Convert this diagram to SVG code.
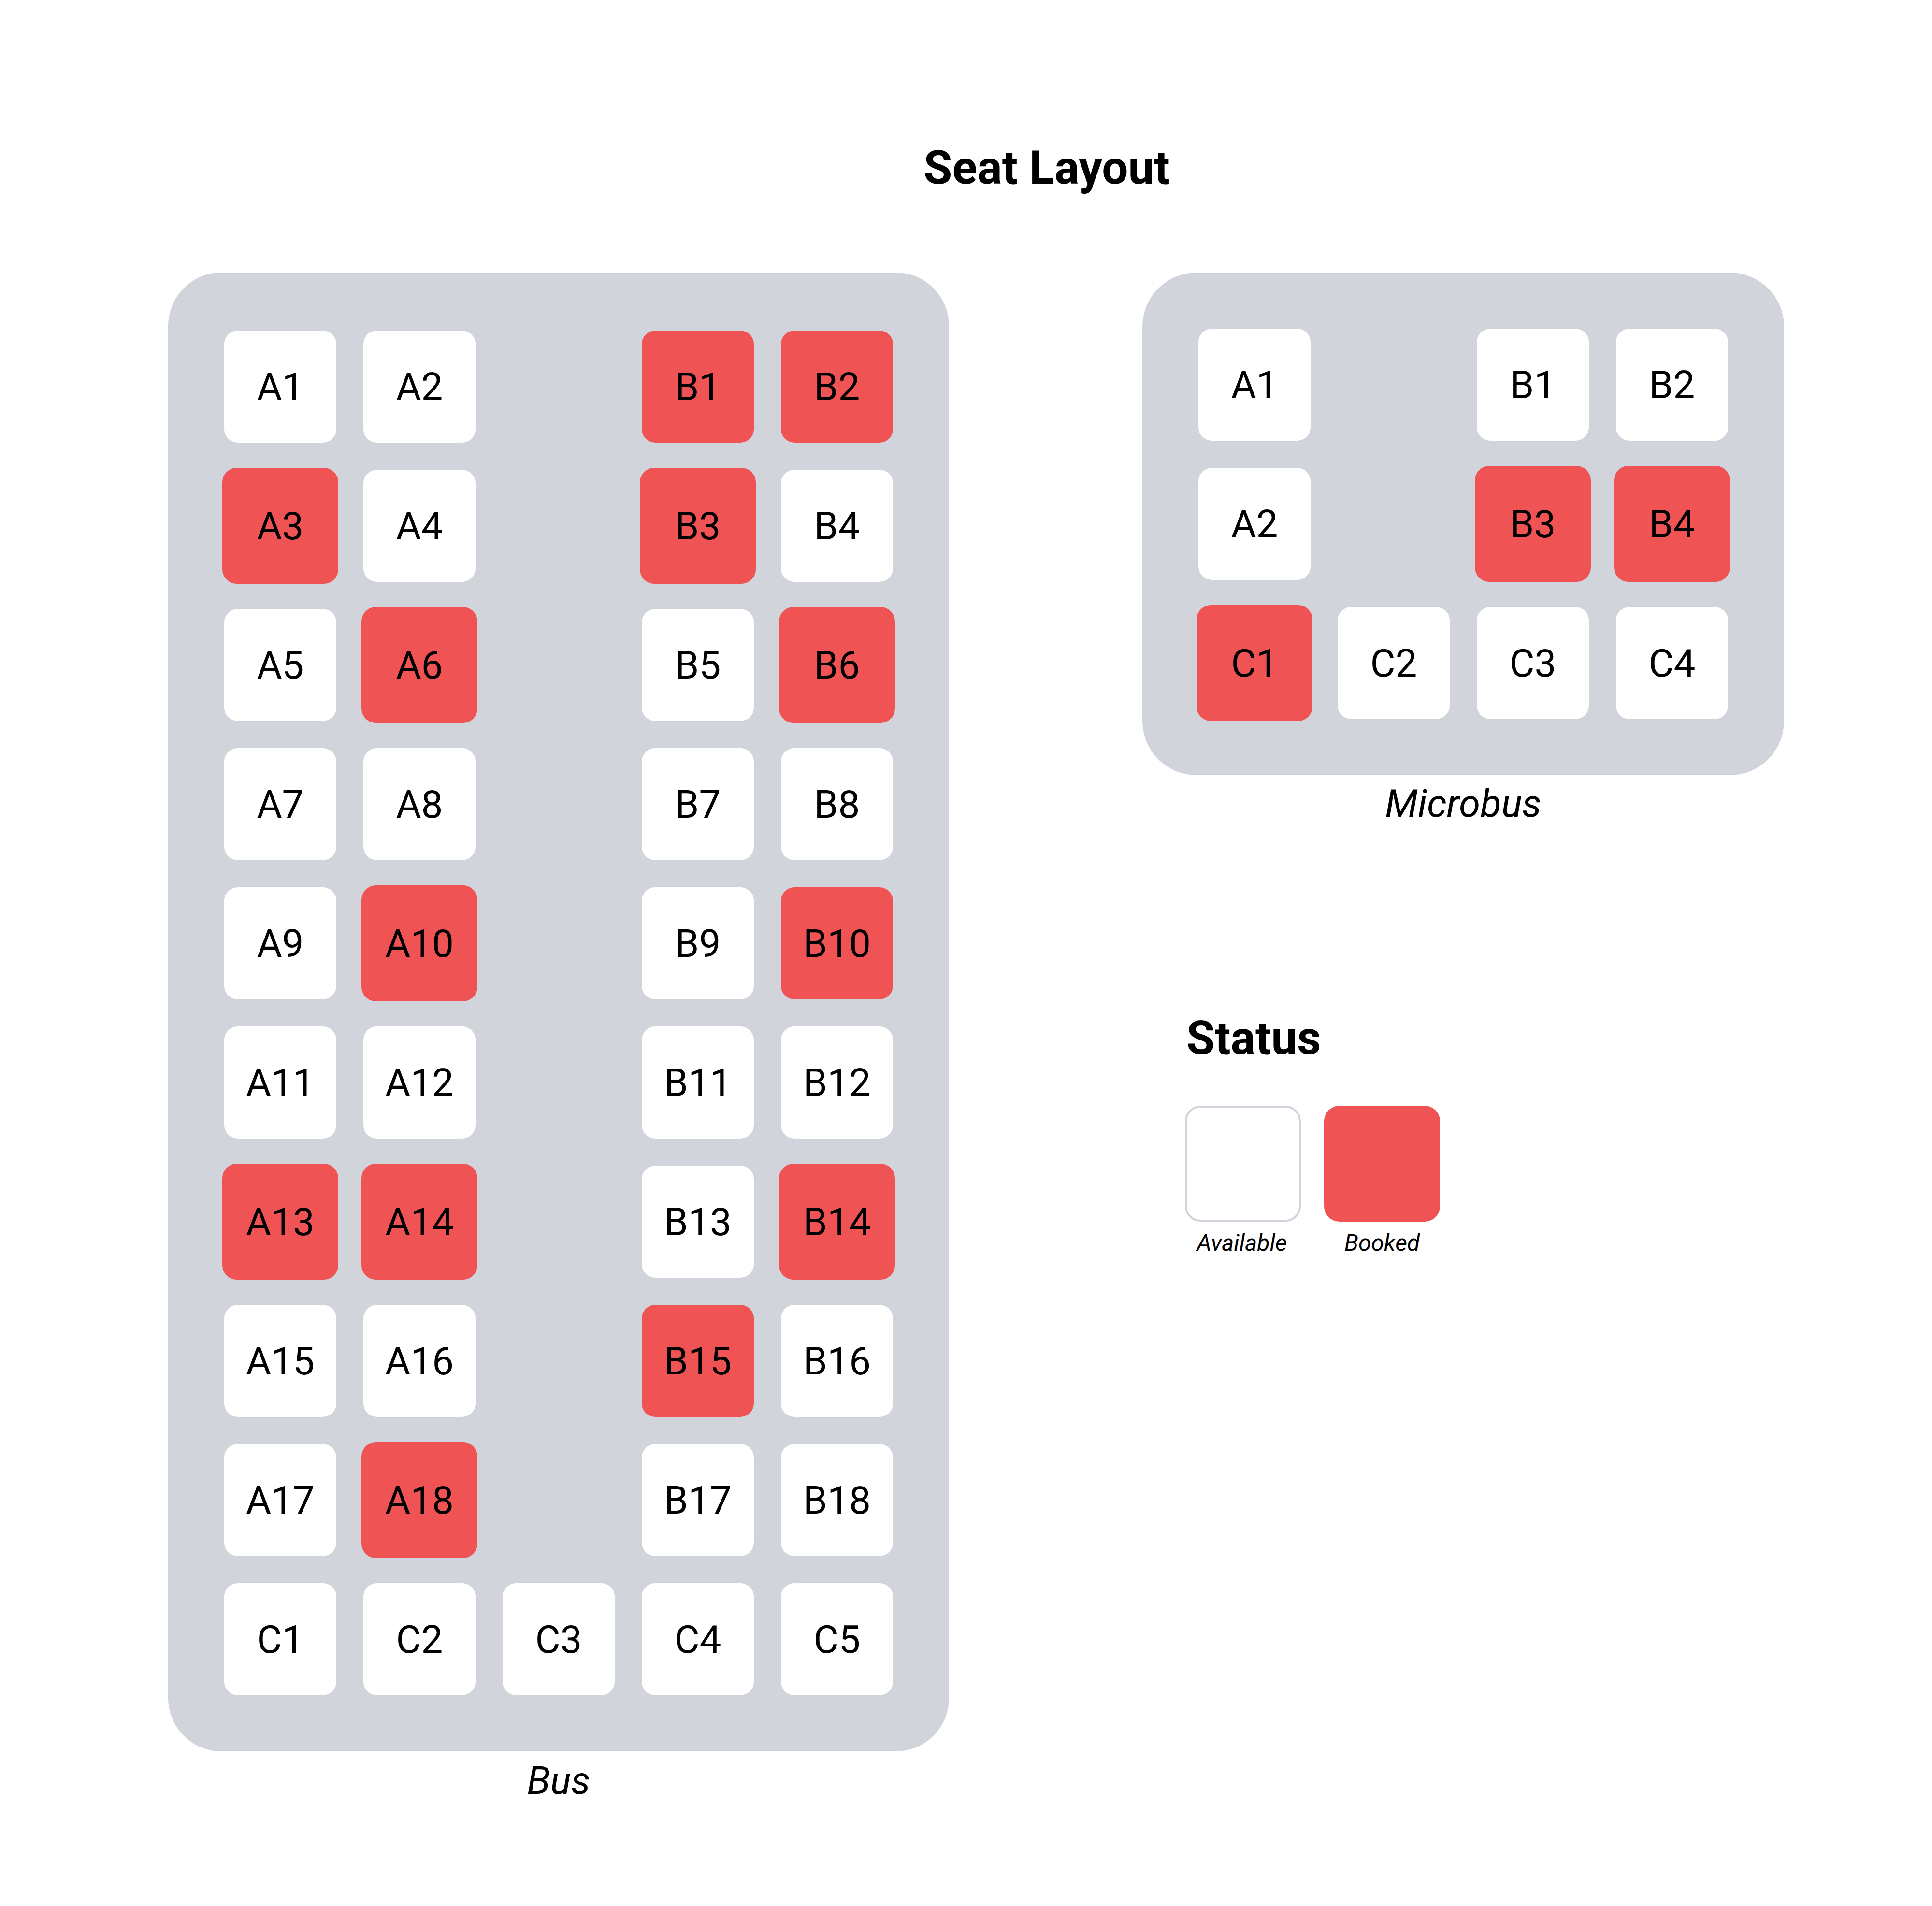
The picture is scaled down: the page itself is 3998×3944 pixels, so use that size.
<svg xmlns="http://www.w3.org/2000/svg" width="3998" height="3944" viewBox="0 0 3998 3944">
<style>
.bg{fill:#ffffff}
.panel{fill:#d1d5db}
.seat{fill:#ffffff}
.booked{fill:#ef5353}
.lbl{font-family:Roboto,"Liberation Sans",sans-serif;font-size:80px;fill:#000;text-anchor:middle}
.cap{font-family:Roboto,"Liberation Sans",sans-serif;font-size:80px;font-style:italic;fill:#000;text-anchor:middle}
.title{font-family:Roboto,"Liberation Sans",sans-serif;font-size:96px;font-weight:bold;fill:#000;text-anchor:middle}
.h2{font-family:Roboto,"Liberation Sans",sans-serif;font-size:96px;font-weight:bold;fill:#000}
.small{font-family:Roboto,"Liberation Sans",sans-serif;font-size:48px;font-style:italic;fill:#000;text-anchor:middle}
</style>
<rect class="bg" x="0" y="0" width="3998" height="3944"/>
<text class="title" x="2166" y="380">Seat Layout</text>

<g id="bus">
<rect class="panel" x="348" y="564" width="1616" height="3060" rx="110"/>
<text class="cap" x="1156" y="3712">Bus</text>
</g>
<g id="bus-seats">
<g id="bus-A1"><rect class="seat" x="464" y="684" width="232" height="232" rx="28"/><text class="lbl" x="580" y="828">A1</text></g>
<g id="bus-A2"><rect class="seat" x="752" y="684" width="232" height="232" rx="28"/><text class="lbl" x="868" y="828">A2</text></g>
<g id="bus-B1"><rect class="booked" x="1328" y="684" width="232" height="232" rx="28"/><text class="lbl" x="1444" y="828">B1</text></g>
<g id="bus-B2"><rect class="booked" x="1616" y="684" width="232" height="232" rx="28"/><text class="lbl" x="1732" y="828">B2</text></g>

<g id="bus-A3"><rect class="booked" x="460" y="968" width="240" height="240" rx="30"/><text class="lbl" x="580" y="1116">A3</text></g>
<g id="bus-A4"><rect class="seat" x="752" y="972" width="232" height="232" rx="28"/><text class="lbl" x="868" y="1116">A4</text></g>
<g id="bus-B3"><rect class="booked" x="1324" y="968" width="240" height="240" rx="30"/><text class="lbl" x="1444" y="1116">B3</text></g>
<g id="bus-B4"><rect class="seat" x="1616" y="972" width="232" height="232" rx="28"/><text class="lbl" x="1732" y="1116">B4</text></g>

<g id="bus-A5"><rect class="seat" x="464" y="1260" width="232" height="232" rx="28"/><text class="lbl" x="580" y="1404">A5</text></g>
<g id="bus-A6"><rect class="booked" x="748" y="1256" width="240" height="240" rx="30"/><text class="lbl" x="868" y="1404">A6</text></g>
<g id="bus-B5"><rect class="seat" x="1328" y="1260" width="232" height="232" rx="28"/><text class="lbl" x="1444" y="1404">B5</text></g>
<g id="bus-B6"><rect class="booked" x="1612" y="1256" width="240" height="240" rx="30"/><text class="lbl" x="1732" y="1404">B6</text></g>

<g id="bus-A7"><rect class="seat" x="464" y="1548" width="232" height="232" rx="28"/><text class="lbl" x="580" y="1692">A7</text></g>
<g id="bus-A8"><rect class="seat" x="752" y="1548" width="232" height="232" rx="28"/><text class="lbl" x="868" y="1692">A8</text></g>
<g id="bus-B7"><rect class="seat" x="1328" y="1548" width="232" height="232" rx="28"/><text class="lbl" x="1444" y="1692">B7</text></g>
<g id="bus-B8"><rect class="seat" x="1616" y="1548" width="232" height="232" rx="28"/><text class="lbl" x="1732" y="1692">B8</text></g>

<g id="bus-A9"><rect class="seat" x="464" y="1836" width="232" height="232" rx="28"/><text class="lbl" x="580" y="1980">A9</text></g>
<g id="bus-A10"><rect class="booked" x="748" y="1832" width="240" height="240" rx="30"/><text class="lbl" x="868" y="1980">A10</text></g>
<g id="bus-B9"><rect class="seat" x="1328" y="1836" width="232" height="232" rx="28"/><text class="lbl" x="1444" y="1980">B9</text></g>
<g id="bus-B10"><rect class="booked" x="1616" y="1836" width="232" height="232" rx="28"/><text class="lbl" x="1732" y="1980">B10</text></g>

<g id="bus-A11"><rect class="seat" x="464" y="2124" width="232" height="232" rx="28"/><text class="lbl" x="580" y="2268">A11</text></g>
<g id="bus-A12"><rect class="seat" x="752" y="2124" width="232" height="232" rx="28"/><text class="lbl" x="868" y="2268">A12</text></g>
<g id="bus-B11"><rect class="seat" x="1328" y="2124" width="232" height="232" rx="28"/><text class="lbl" x="1444" y="2268">B11</text></g>
<g id="bus-B12"><rect class="seat" x="1616" y="2124" width="232" height="232" rx="28"/><text class="lbl" x="1732" y="2268">B12</text></g>

<g id="bus-A13"><rect class="booked" x="460" y="2408" width="240" height="240" rx="30"/><text class="lbl" x="580" y="2556">A13</text></g>
<g id="bus-A14"><rect class="booked" x="748" y="2408" width="240" height="240" rx="30"/><text class="lbl" x="868" y="2556">A14</text></g>
<g id="bus-B13"><rect class="seat" x="1328" y="2412" width="232" height="232" rx="28"/><text class="lbl" x="1444" y="2556">B13</text></g>
<g id="bus-B14"><rect class="booked" x="1612" y="2408" width="240" height="240" rx="30"/><text class="lbl" x="1732" y="2556">B14</text></g>

<g id="bus-A15"><rect class="seat" x="464" y="2700" width="232" height="232" rx="28"/><text class="lbl" x="580" y="2844">A15</text></g>
<g id="bus-A16"><rect class="seat" x="752" y="2700" width="232" height="232" rx="28"/><text class="lbl" x="868" y="2844">A16</text></g>
<g id="bus-B15"><rect class="booked" x="1328" y="2700" width="232" height="232" rx="28"/><text class="lbl" x="1444" y="2844">B15</text></g>
<g id="bus-B16"><rect class="seat" x="1616" y="2700" width="232" height="232" rx="28"/><text class="lbl" x="1732" y="2844">B16</text></g>

<g id="bus-A17"><rect class="seat" x="464" y="2988" width="232" height="232" rx="28"/><text class="lbl" x="580" y="3132">A17</text></g>
<g id="bus-A18"><rect class="booked" x="748" y="2984" width="240" height="240" rx="30"/><text class="lbl" x="868" y="3132">A18</text></g>
<g id="bus-B17"><rect class="seat" x="1328" y="2988" width="232" height="232" rx="28"/><text class="lbl" x="1444" y="3132">B17</text></g>
<g id="bus-B18"><rect class="seat" x="1616" y="2988" width="232" height="232" rx="28"/><text class="lbl" x="1732" y="3132">B18</text></g>

<g id="bus-C1"><rect class="seat" x="464" y="3276" width="232" height="232" rx="28"/><text class="lbl" x="580" y="3420">C1</text></g>
<g id="bus-C2"><rect class="seat" x="752" y="3276" width="232" height="232" rx="28"/><text class="lbl" x="868" y="3420">C2</text></g>
<g id="bus-C3"><rect class="seat" x="1040" y="3276" width="232" height="232" rx="28"/><text class="lbl" x="1156" y="3420">C3</text></g>
<g id="bus-C4"><rect class="seat" x="1328" y="3276" width="232" height="232" rx="28"/><text class="lbl" x="1444" y="3420">C4</text></g>
<g id="bus-C5"><rect class="seat" x="1616" y="3276" width="232" height="232" rx="28"/><text class="lbl" x="1732" y="3420">C5</text></g>
</g>

<g id="microbus">
<rect class="panel" x="2364" y="564" width="1328" height="1040" rx="112"/>
<text class="cap" x="3028" y="1690">Microbus</text>
</g>
<g id="microbus-seats">
<g id="mb-A1"><rect class="seat" x="2480" y="680" width="232" height="232" rx="28"/><text class="lbl" x="2596" y="824">A1</text></g>
<g id="mb-B1"><rect class="seat" x="3056" y="680" width="232" height="232" rx="28"/><text class="lbl" x="3172" y="824">B1</text></g>
<g id="mb-B2"><rect class="seat" x="3344" y="680" width="232" height="232" rx="28"/><text class="lbl" x="3460" y="824">B2</text></g>
<g id="mb-A2"><rect class="seat" x="2480" y="968" width="232" height="232" rx="28"/><text class="lbl" x="2596" y="1112">A2</text></g>
<g id="mb-B3"><rect class="booked" x="3052" y="964" width="240" height="240" rx="30"/><text class="lbl" x="3172" y="1112">B3</text></g>
<g id="mb-B4"><rect class="booked" x="3340" y="964" width="240" height="240" rx="30"/><text class="lbl" x="3460" y="1112">B4</text></g>
<g id="mb-C1"><rect class="booked" x="2476" y="1252" width="240" height="240" rx="30"/><text class="lbl" x="2596" y="1400">C1</text></g>
<g id="mb-C2"><rect class="seat" x="2768" y="1256" width="232" height="232" rx="28"/><text class="lbl" x="2884" y="1400">C2</text></g>
<g id="mb-C3"><rect class="seat" x="3056" y="1256" width="232" height="232" rx="28"/><text class="lbl" x="3172" y="1400">C3</text></g>
<g id="mb-C4"><rect class="seat" x="3344" y="1256" width="232" height="232" rx="28"/><text class="lbl" x="3460" y="1400">C4</text></g>
</g>

<g id="legend">
<text class="h2" x="2455" y="2181">Status</text>
<g id="legend-available"><rect x="2454" y="2290" width="236" height="236" rx="30" fill="#ffffff" stroke="#d1d5db" stroke-width="4"/><text class="small" x="2570" y="2588">Available</text></g>
<g id="legend-booked"><rect class="booked" x="2740" y="2288" width="240" height="240" rx="32"/><text class="small" x="2860" y="2588">Booked</text></g>
</g>
<g id="connectors"/>
</svg>
